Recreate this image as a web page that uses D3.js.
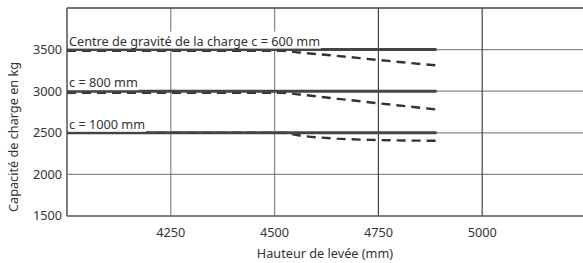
<!DOCTYPE html>
<html>
<head>
<meta charset="utf-8">
<script src="https://cdn.jsdelivr.net/npm/d3@7"></script>
<style>
  body { margin: 0; background: #fff; }
  text { font-family: "Noto Sans", sans-serif; fill: #333; }
</style>
</head>
<body>
<div id="chart"></div>
<script>
// Data
const xTicks = [4250, 4500, 4750, 5000];
const yTicks = [1500, 2000, 2500, 3000, 3500];
const labels = ["Centre de gravité de la charge c = 600 mm", "c = 800 mm", "c = 1000 mm"];
const solidX = [4000, 4890];
const solidY = [3500, 3000, 2500];
const dashX = [4000, 4520, 4560, 4650, 4750, 4890];
const dash600 = [3485, 3485, 3465, 3425, 3375, 3310];
const dash800 = [2980, 2980, 2960, 2910, 2855, 2780];
const dash1000 = [2500, 2500, 2468, 2430, 2413, 2404];

const W = 583, H = 263;
const margin = { top: 8, right: -3, bottom: 47, left: 67 };
const fs = 12.7;

const svg = d3.select("#chart").append("svg")
  .attr("width", W).attr("height", H);

const x = d3.scaleLinear().domain([4000, 5250]).range([margin.left, W - margin.right]);
const y = d3.scaleLinear().domain([1500, 4000]).range([H - margin.bottom, margin.top]);

// grid
svg.append("g").selectAll("line").data(yTicks.slice(1)).join("line")
  .attr("x1", x(4000)).attr("x2", x(5250))
  .attr("y1", d => y(d)).attr("y2", d => y(d))
  .attr("stroke", "#8a8a8a").attr("stroke-width", 1.2);
svg.append("g").selectAll("line").data(xTicks).join("line")
  .attr("x1", d => x(d)).attr("x2", d => x(d))
  .attr("y1", y(1500)).attr("y2", y(4000))
  .attr("stroke", (d, i) => i < 2 ? "#888" : "#444").attr("stroke-width", 1.2);

// frame
svg.append("line").attr("x1", x(4000)).attr("x2", x(5250)).attr("y1", y(4000)).attr("y2", y(4000))
  .attr("stroke", "#444").attr("stroke-width", 1.5);
svg.append("line").attr("x1", x(4000)).attr("x2", x(5250)).attr("y1", y(1500)).attr("y2", y(1500))
  .attr("stroke", "#555").attr("stroke-width", 1.5);
svg.append("line").attr("x1", x(4000)).attr("x2", x(4000)).attr("y1", y(1500)).attr("y2", y(4000))
  .attr("stroke", "#555").attr("stroke-width", 1.5);

// dashed series
const line = d3.line().x(d => x(d[0])).y(d => y(d[1])).curve(d3.curveMonotoneX);
[dash600, dash800, dash1000].forEach(vals => {
  svg.append("path")
    .datum(dashX.map((h, i) => [h, vals[i]]))
    .attr("d", line)
    .attr("fill", "none").attr("stroke", "#333")
    .attr("stroke-width", 2.4).attr("stroke-dasharray", "9,6");
});

// solid series
solidY.forEach(v => {
  svg.append("line")
    .attr("x1", x(solidX[0])).attr("x2", x(solidX[1]))
    .attr("y1", y(v)).attr("y2", y(v))
    .attr("stroke", "#444").attr("stroke-width", 3);
});

// series labels with white background
labels.forEach((t, i) => {
  const g = svg.append("g");
  const tx = g.append("text")
    .attr("x", x(4000) + 2).attr("y", y(solidY[i]) - 4)
    .attr("font-size", fs).text(t);
  const bb = tx.node().getBBox();
  g.insert("rect", "text")
    .attr("x", bb.x - 1).attr("y", bb.y)
    .attr("width", bb.width + 2).attr("height", bb.height - 1)
    .attr("fill", "#fff");
});

// tick labels
svg.append("g").selectAll("text").data(yTicks).join("text")
  .attr("x", x(4000) - 5).attr("y", d => y(d)).attr("dy", "0.35em")
  .attr("text-anchor", "end").attr("font-size", fs)
  .text(d => d);
svg.append("g").selectAll("text").data(xTicks).join("text")
  .attr("x", d => x(d)).attr("y", y(1500) + 21)
  .attr("text-anchor", "middle").attr("font-size", fs)
  .text(d => d);

// axis titles
svg.append("text")
  .attr("x", 325).attr("y", 258)
  .attr("text-anchor", "middle").attr("font-size", fs)
  .text("Hauteur de levée (mm)");
svg.append("text")
  .attr("transform", "translate(18,137) rotate(-90)")
  .attr("text-anchor", "middle").attr("font-size", fs)
  .text("Capacité de charge en kg");
</script>
</body>
</html>
